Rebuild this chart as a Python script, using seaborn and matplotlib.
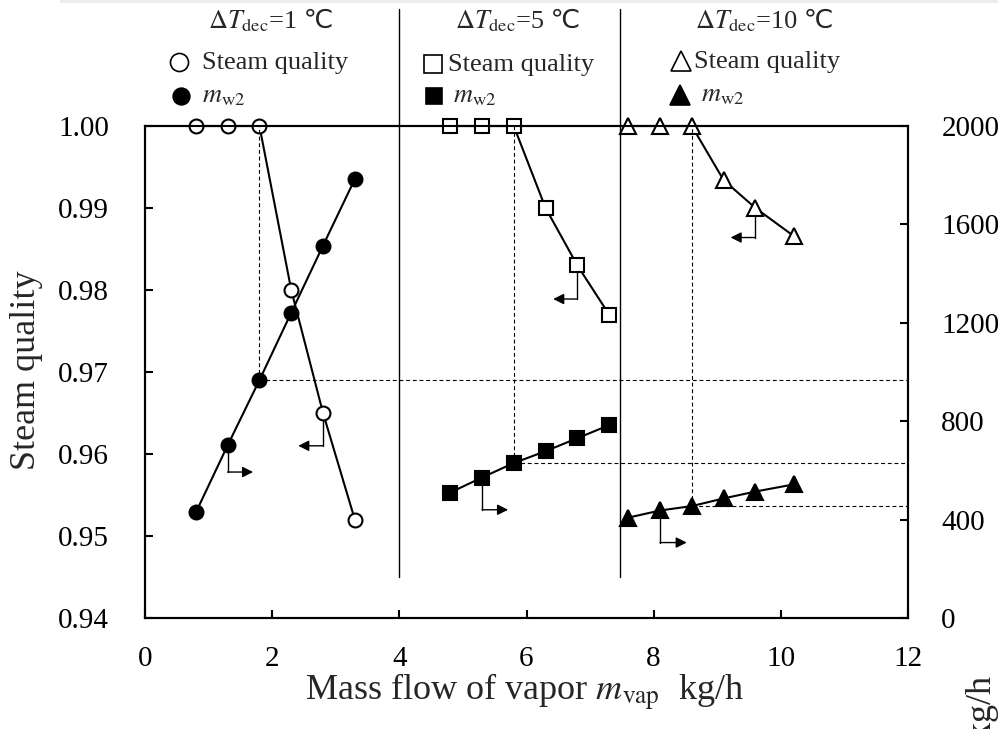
import matplotlib
matplotlib.use("Agg")
import matplotlib.pyplot as plt
import seaborn as sns
import numpy as np
from matplotlib.patches import Rectangle
from matplotlib.lines import Line2D

# ---------------- data ----------------
x_dt1 = [0.8, 1.3, 1.8, 2.3, 2.8, 3.3]
q_dt1 = [1.0, 1.0, 1.0, 0.980, 0.965, 0.952]
m_dt1 = [429, 702, 967, 1241, 1514, 1784]

x_dt5 = [4.8, 5.3, 5.8, 6.3, 6.8, 7.3]
q_dt5 = [1.0, 1.0, 1.0, 0.990, 0.983, 0.977]
m_dt5 = [510, 571, 630, 678, 731, 784]

x_dt10 = [7.6, 8.1, 8.6, 9.1, 9.6, 10.2]
q_dt10 = [1.0, 1.0, 1.0, 0.9934, 0.990, 0.9866]
m_dt10 = [408, 437, 455, 486, 514, 543]

case_labels = ["1", "5", "10"]
x_ticks = [0, 2, 4, 6, 8, 10, 12]
q_ticks = [0.94, 0.95, 0.96, 0.97, 0.98, 0.99, 1.00]
m_ticks = [0, 400, 800, 1200, 1600, 2000]

# ---------------- style ----------------
sns.set_style("ticks")
plt.rcParams["font.family"] = ["Liberation Serif", "DejaVu Sans", "Noto Sans CJK SC"]
plt.rcParams["mathtext.fontset"] = "stix"

fig = plt.figure(figsize=(9.98, 7.29), dpi=100)
L, R, T, B = 145, 908, 126, 618
W, H = 998, 729
ax = fig.add_axes([L / W, 1 - B / H, (R - L) / W, (B - T) / H])
ax2 = ax.twinx()

ax.set_xlim(0, 12)
ax.set_ylim(0.94, 1.0)
ax2.set_ylim(0, 2000)
ax.set_xticks(x_ticks)
ax.set_yticks(q_ticks)
ax.set_yticklabels([f"{v:.2f}" for v in q_ticks])
ax2.set_yticks(m_ticks)

for a in (ax, ax2):
    for s in a.spines.values():
        s.set_linewidth(1.5)
        s.set_color("black")
ax.tick_params(axis="both", direction="in", length=6, width=1.5, labelsize=21, colors="black")
ax.tick_params(axis="y", pad=26)
ax.tick_params(axis="x", pad=20)
ax2.tick_params(axis="y", direction="in", length=6, width=1.5, labelsize=21, pad=24, colors="black")

lw = 1.5
common = dict(color="black", lw=lw, markersize=10, markeredgecolor="black",
              markeredgewidth=1.5, clip_on=False, legend=False)

# steam quality (open markers) on left axis
sns.lineplot(x=x_dt1, y=q_dt1, ax=ax, marker="o", markerfacecolor="white", zorder=6, **common)
sns.lineplot(x=x_dt5, y=q_dt5, ax=ax, marker="s", markerfacecolor="white", zorder=6, **common)
sns.lineplot(x=x_dt10, y=q_dt10, ax=ax, marker="^", markerfacecolor="white", zorder=6,
             **{**common, "markersize": 11})

# m_w2 (filled markers) on right axis
sns.lineplot(x=x_dt1, y=m_dt1, ax=ax2, marker="o", markerfacecolor="black", zorder=6, **common)
sns.lineplot(x=x_dt5, y=m_dt5, ax=ax2, marker="s", markerfacecolor="black", zorder=6, **common)
sns.lineplot(x=x_dt10, y=m_dt10, ax=ax2, marker="^", markerfacecolor="black", zorder=6,
             **{**common, "markersize": 11})

# dashed guide lines (from the 3rd point of each series)
for xs, ms in ((x_dt1, m_dt1), (x_dt5, m_dt5), (x_dt10, m_dt10)):
    xr, mr = xs[2], ms[2]
    ax2.plot([xr, xr], [mr, 2000], ls=(0, (3.5, 2.5)), color="black", lw=0.8, zorder=2)
    ax2.plot([xr, 12], [mr, mr], ls=(0, (3.5, 2.5)), color="black", lw=0.8, zorder=2)

# separators between the three cases
for xv in (4.0, 7.47):
    ax.plot([xv, xv], [0.945, 1.0143], color="black", lw=1.0, clip_on=False, zorder=3)

# small axis-indicator arrows (left-axis coordinates)
arrows = [
    (1.3, 0.961, 0.9578, 1.70),
    (2.8, 0.965, 0.9610, 2.41),
    (6.8, 0.983, 0.9789, 6.42),
    (5.3, 0.9571, 0.9532, 5.71),
    (9.6, 0.990, 0.9864, 9.21),
    (8.1, 0.9531, 0.9492, 8.52),
]
for xs, ys, yb, xe in arrows:
    ax.plot([xs, xs], [ys, yb], color="black", lw=1.0, zorder=4)
    ax.annotate("", xy=(xe, yb), xytext=(xs, yb),
                arrowprops=dict(arrowstyle="-|>", color="black", lw=1.0,
                                mutation_scale=16, shrinkA=0, shrinkB=0), zorder=4)

# axis labels
fig.text(27 / W, 1 - 370 / H, "Steam quality", rotation=90, ha="center", va="center",
         fontsize=26)
fig.text(525 / W, 1 - 692 / H, r"Mass flow of vapor $m_{\mathrm{vap}}$  kg/h",
         ha="center", va="center", fontsize=26)
fig.text(982 / W, 1 - 675 / H, r"Cooling water flow $m_{\mathrm{w2}}$  kg/h", rotation=90,
         ha="center", va="top", fontsize=26)

# case titles (math part + plain part with ℃)
tfs = 19
renderer = fig.canvas.get_renderer()
for x0, lab in zip((208, 455, 695), case_labels):
    t1 = fig.text(x0 / W, 1 - 28 / H, r"$\Delta T_{\mathrm{dec}}$", ha="left", va="baseline",
                  fontsize=tfs)
    bb = t1.get_window_extent(renderer)
    fig.text(bb.x1 / W, 1 - 28 / H, f"={lab} ℃", ha="left", va="baseline", fontsize=tfs)

# marker keys
key = dict(color="black", markeredgecolor="black", markeredgewidth=1.2,
           transform=fig.transFigure, clip_on=False)
keys = [
    (179, 62, "o", "white", 13, 202, "Steam quality"),
    (181, 96, "o", "black", 12, 202, r"$m_{\mathrm{w2}}$"),
    (433, 64, "s", "white", 13, 448, "Steam quality"),
    (434, 96, "s", "black", 11, 453, r"$m_{\mathrm{w2}}$"),
    (681, 61, "^", "white", 15, 694, "Steam quality"),
    (680, 95, "^", "black", 14, 701, r"$m_{\mathrm{w2}}$"),
]
for kx, ky, mk, fc, ms, tx, txt in keys:
    fig.add_artist(Line2D([kx / W], [1 - ky / H], marker=mk, markerfacecolor=fc,
                          markersize=ms, linestyle="none", **key))
    fig.text(tx / W, 1 - (ky + 1) / H, txt, ha="left", va="center", fontsize=tfs)

# faint screenshot shadow at top
fig.add_artist(Rectangle((60 / W, 1 - 3 / H), 1, 3 / H, transform=fig.transFigure,
                         color="#ececec", lw=0))

fig.savefig("out.png", dpi=100)
